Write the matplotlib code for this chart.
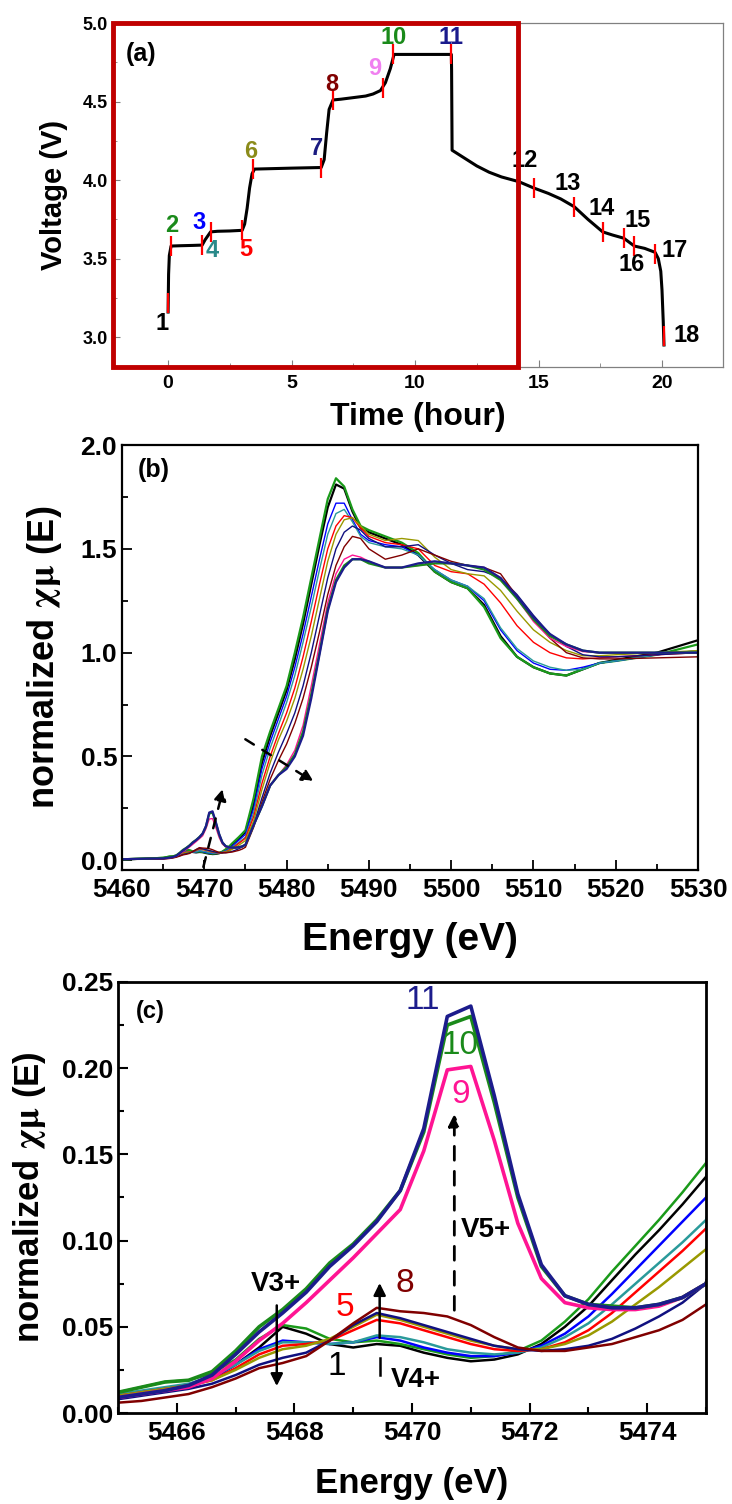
import matplotlib
matplotlib.use('Agg')
import matplotlib.pyplot as plt
from matplotlib.patches import Rectangle
from matplotlib.ticker import MultipleLocator, FormatStrFormatter

plt.rcParams['font.family'] = ['Liberation Sans', 'DejaVu Sans']
plt.rcParams['font.weight'] = 'bold'
plt.rcParams['mathtext.fontset'] = 'stix'

# ---------------- (a) charge / discharge profile ----------------
time_h = [0.0, 0.02, 0.05, 0.12, 0.5, 1.0, 1.38, 1.5, 1.72, 2.0, 2.5, 3.0, 3.1, 3.2, 3.3, 3.4, 3.5,
          4.0, 5.0, 6.2, 6.32, 6.42, 6.52, 6.68, 7.0, 7.5, 8.0, 8.3, 8.6, 8.8, 9.0, 9.15, 10.0,
          11.0, 11.47, 11.48, 11.5, 12.0, 12.5, 13.0, 13.5, 14.2, 14.8, 15.4, 15.9, 16.45, 17.0,
          17.6, 18.0, 18.45, 18.88, 19.3, 19.72, 19.85, 19.95, 20.0, 20.05, 20.08]
voltage = [3.16, 3.40, 3.52, 3.58, 3.582, 3.584, 3.586, 3.62, 3.67, 3.674, 3.676, 3.68, 3.72, 3.82,
           3.95, 4.04, 4.07, 4.072, 4.076, 4.08, 4.13, 4.30, 4.45, 4.51, 4.515, 4.525, 4.535, 4.548,
           4.57, 4.62, 4.71, 4.80, 4.80, 4.80, 4.80, 4.70, 4.19, 4.14, 4.09, 4.05, 4.02, 3.99, 3.95,
           3.915, 3.88, 3.83, 3.75, 3.67, 3.65, 3.63, 3.58, 3.565, 3.54, 3.50, 3.42, 3.30, 3.10, 2.95]

# measurement points (red ticks)
mark_t = [0.0, 0.12, 1.38, 1.72, 3.0, 3.45, 6.2, 6.68, 8.7, 9.12, 11.47, 14.8, 16.45, 17.6, 18.45, 18.88, 19.72, 20.08]
mark_v = [3.22, 3.58, 3.586, 3.67, 3.68, 4.07, 4.08, 4.51, 4.585, 4.80, 4.80, 3.95, 3.83, 3.67, 3.63, 3.58, 3.53, 3.01]
mark_labels = [str(i) for i in range(1, 19)]
label_t = [-0.25, 0.13, 1.27, 1.78, 3.13, 3.36, 6.0, 6.62, 8.38, 9.14, 11.47, 14.45, 16.2, 17.57, 19.0, 18.75, 20.5, 21.0]
label_v = [3.085, 3.71, 3.73, 3.55, 3.56, 4.18, 4.2, 4.61, 4.71, 4.91, 4.91, 4.125, 3.98, 3.82, 3.74, 3.46, 3.55, 3.01]
label_colors = ['#000000', '#1a8a1a', '#0000ff', '#2a8a8a', '#ff0000', '#8b8b1a', '#1a1a80', '#800000',
                '#f080f0', '#1a8a1a', '#1a1a8c'] + ['#000000'] * 7

# ---------------- (b)/(c) XANES spectra ----------------
energy = ([5460, 5463] +
          [5465.0, 5465.4, 5465.8, 5466.2, 5466.6, 5467.0, 5467.4, 5467.8, 5468.2, 5468.6, 5469.0,
           5469.4, 5469.8, 5470.2, 5470.6, 5471.0, 5471.4, 5471.8, 5472.2, 5472.6, 5473.0, 5473.4,
           5473.8, 5474.2, 5474.6, 5475.0] +
          [5476, 5477, 5478, 5479, 5480, 5481, 5482, 5483, 5484, 5485, 5486, 5487, 5488, 5489, 5490,
           5492, 5494, 5496, 5498, 5500, 5502, 5504, 5506, 5508, 5510, 5512, 5514, 5516, 5518, 5520,
           5525, 5530])

mu1 = ([0.005, 0.008] +
       [0.010, 0.012, 0.014, 0.016, 0.020, 0.028, 0.038, 0.050, 0.046, 0.040, 0.038, 0.040, 0.039,
        0.035, 0.032, 0.030, 0.031, 0.034, 0.040, 0.050, 0.062, 0.077, 0.092, 0.106, 0.121, 0.137] +
       [0.27, 0.47, 0.60, 0.71, 0.82, 0.97, 1.14, 1.33, 1.52, 1.70, 1.81, 1.79, 1.68, 1.60, 1.58, 1.55,
        1.52, 1.47, 1.39, 1.34, 1.31, 1.23, 1.08, 0.98, 0.93, 0.90, 0.89, 0.92, 0.95, 0.965, 1.00, 1.06])
mu2 = ([0.005, 0.008] +
       [0.012, 0.015, 0.018, 0.019, 0.023, 0.031, 0.043, 0.051, 0.049, 0.043, 0.041, 0.042, 0.040,
        0.037, 0.034, 0.032, 0.033, 0.036, 0.042, 0.053, 0.066, 0.082, 0.097, 0.112, 0.128, 0.145] +
       [0.30, 0.50, 0.62, 0.73, 0.84, 1.00, 1.17, 1.36, 1.55, 1.74, 1.84, 1.80, 1.69, 1.61, 1.59, 1.56,
        1.53, 1.48, 1.39, 1.34, 1.31, 1.22, 1.07, 0.98, 0.93, 0.90, 0.89, 0.92, 0.95, 0.96, 0.99, 1.04])
mu3 = ([0.005, 0.008] +
       [0.010, 0.012, 0.014, 0.016, 0.020, 0.028, 0.037, 0.042, 0.041, 0.040, 0.041, 0.044, 0.042,
        0.038, 0.035, 0.033, 0.033, 0.035, 0.039, 0.046, 0.056, 0.069, 0.083, 0.097, 0.111, 0.125] +
       [0.25, 0.44, 0.57, 0.68, 0.79, 0.93, 1.09, 1.27, 1.45, 1.62, 1.72, 1.72, 1.64, 1.57, 1.54, 1.52,
        1.51, 1.47, 1.40, 1.35, 1.32, 1.25, 1.11, 1.01, 0.95, 0.92, 0.915, 0.93, 0.95, 0.96, 0.99, 1.01])
mu4 = ([0.005, 0.008] +
       [0.011, 0.013, 0.015, 0.017, 0.021, 0.028, 0.036, 0.041, 0.041, 0.040, 0.041, 0.045, 0.044,
        0.041, 0.037, 0.035, 0.034, 0.035, 0.038, 0.044, 0.052, 0.063, 0.075, 0.087, 0.099, 0.112] +
       [0.23, 0.41, 0.54, 0.65, 0.76, 0.89, 1.05, 1.22, 1.40, 1.57, 1.67, 1.69, 1.63, 1.56, 1.53, 1.51,
        1.50, 1.47, 1.40, 1.35, 1.32, 1.26, 1.12, 1.02, 0.96, 0.93, 0.915, 0.92, 0.95, 0.96, 0.99, 1.01])
mu5 = ([0.005, 0.008] +
       [0.010, 0.012, 0.014, 0.016, 0.019, 0.026, 0.034, 0.039, 0.040, 0.042, 0.048, 0.054, 0.052,
        0.048, 0.044, 0.040, 0.037, 0.036, 0.037, 0.041, 0.048, 0.058, 0.070, 0.082, 0.094, 0.107] +
       [0.21, 0.37, 0.50, 0.61, 0.71, 0.83, 0.98, 1.15, 1.33, 1.50, 1.61, 1.66, 1.65, 1.60, 1.56, 1.53,
        1.52, 1.50, 1.42, 1.39, 1.38, 1.33, 1.24, 1.13, 1.05, 1.00, 0.975, 0.97, 0.975, 0.98, 0.99, 1.00])
mu6 = ([0.005, 0.008] +
       [0.010, 0.012, 0.014, 0.016, 0.019, 0.025, 0.032, 0.037, 0.039, 0.043, 0.050, 0.057, 0.054,
        0.050, 0.046, 0.042, 0.039, 0.037, 0.037, 0.040, 0.045, 0.053, 0.063, 0.073, 0.084, 0.095] +
       [0.19, 0.34, 0.47, 0.58, 0.67, 0.78, 0.92, 1.08, 1.26, 1.44, 1.57, 1.64, 1.65, 1.61, 1.57, 1.54,
        1.55, 1.54, 1.46, 1.40, 1.38, 1.37, 1.30, 1.20, 1.11, 1.05, 1.01, 0.985, 0.985, 0.99, 1.00, 1.01])
mu7 = ([0.005, 0.007] +
       [0.008, 0.010, 0.012, 0.014, 0.017, 0.022, 0.028, 0.032, 0.035, 0.042, 0.051, 0.058, 0.055,
        0.051, 0.047, 0.043, 0.039, 0.037, 0.036, 0.037, 0.039, 0.043, 0.049, 0.056, 0.064, 0.075] +
       [0.17, 0.30, 0.42, 0.52, 0.61, 0.71, 0.84, 1.00, 1.18, 1.36, 1.50, 1.58, 1.61, 1.59, 1.55, 1.51,
        1.51, 1.52, 1.47, 1.43, 1.40, 1.39, 1.36, 1.28, 1.18, 1.09, 1.03, 0.99, 0.98, 0.98, 0.99, 1.00])
mu8 = ([0.004, 0.005] +
       [0.006, 0.007, 0.009, 0.011, 0.015, 0.020, 0.026, 0.029, 0.033, 0.042, 0.052, 0.061, 0.059,
        0.058, 0.056, 0.051, 0.044, 0.038, 0.036, 0.036, 0.038, 0.040, 0.044, 0.048, 0.054, 0.063] +
       [0.16, 0.28, 0.39, 0.48, 0.56, 0.66, 0.78, 0.93, 1.10, 1.28, 1.42, 1.51, 1.56, 1.55, 1.50, 1.45,
        1.47, 1.50, 1.47, 1.44, 1.42, 1.41, 1.38, 1.27, 1.16, 1.07, 1.00, 0.975, 0.97, 0.97, 0.975, 0.98])
mu9 = ([0.005, 0.008] +
       [0.009, 0.011, 0.013, 0.015, 0.020, 0.030, 0.042, 0.052, 0.064, 0.077, 0.090, 0.104, 0.118,
        0.152, 0.199, 0.201, 0.158, 0.110, 0.078, 0.064, 0.061, 0.060, 0.060, 0.062, 0.067, 0.075] +
       [0.17, 0.26, 0.36, 0.41, 0.46, 0.53, 0.65, 0.84, 1.04, 1.24, 1.38, 1.45, 1.47, 1.46, 1.44, 1.41,
        1.41, 1.42, 1.43, 1.43, 1.42, 1.41, 1.36, 1.26, 1.15, 1.07, 1.03, 1.005, 1.00, 1.00, 1.00, 1.00])
mu10 = ([0.005, 0.008] +
        [0.012, 0.015, 0.018, 0.019, 0.024, 0.036, 0.050, 0.060, 0.072, 0.087, 0.098, 0.112, 0.129,
         0.163, 0.225, 0.230, 0.180, 0.125, 0.085, 0.068, 0.063, 0.062, 0.061, 0.063, 0.067, 0.075] +
        [0.17, 0.26, 0.36, 0.41, 0.45, 0.51, 0.62, 0.80, 1.00, 1.21, 1.35, 1.42, 1.45, 1.45, 1.43, 1.41,
         1.41, 1.42, 1.43, 1.43, 1.42, 1.40, 1.35, 1.26, 1.16, 1.08, 1.04, 1.01, 1.00, 1.00, 1.00, 1.00])
mu11 = ([0.005, 0.008] +
        [0.009, 0.011, 0.013, 0.016, 0.022, 0.034, 0.047, 0.058, 0.070, 0.085, 0.097, 0.111, 0.129,
         0.165, 0.230, 0.236, 0.184, 0.127, 0.086, 0.068, 0.063, 0.061, 0.061, 0.063, 0.067, 0.075] +
        [0.17, 0.26, 0.36, 0.41, 0.44, 0.50, 0.60, 0.78, 0.99, 1.20, 1.34, 1.41, 1.45, 1.45, 1.44, 1.41,
         1.41, 1.43, 1.44, 1.43, 1.42, 1.41, 1.36, 1.27, 1.17, 1.09, 1.04, 1.01, 1.00, 1.00, 1.00, 1.00])

spectra = [mu1, mu2, mu3, mu4, mu5, mu6, mu7, mu8, mu9, mu10, mu11]
spec_colors = ['#000000', '#1a9a1a', '#0000ff', '#2a9a9a', '#ff0000', '#999900', '#101080',
               '#800000', '#ff1493', '#1a8a1a', '#1c1c8c']
lw_b = [1.6, 1.6, 1.0, 1.0, 1.0, 1.0, 1.0, 1.0, 1.0, 1.6, 1.6]
lw_c = [1.8, 1.8, 1.8, 1.8, 1.8, 1.8, 1.8, 1.8, 2.6, 2.6, 2.6]
ylab_xanes = r'normalized $\mathrm{\chi\mu}$ (E)'

fig = plt.figure(figsize=(7.32, 15.04), dpi=100)

# ---------------- panel (a) ----------------
ax1 = fig.add_axes([0.1544, 0.7560, 0.8333, 0.2287])
ax1.plot(time_h, voltage, color='k', lw=2.2, zorder=2)
ax1.plot(mark_t, mark_v, ls='none', marker='|', ms=14, mew=1.6, color='#ff0000', zorder=3)
for lab, x, y, c in zip(mark_labels, label_t, label_v, label_colors):
    ax1.text(x, y, lab, color=c, fontsize=17, fontweight='bold', ha='center', va='center', zorder=4)
ax1.text(-1.1, 4.80, '(a)', fontsize=18, fontweight='bold', ha='center', va='center')
ax1.set_xlim(-2.23, 22.47)
ax1.set_ylim(2.81, 5.0)
ax1.xaxis.set_major_locator(MultipleLocator(5))
ax1.xaxis.set_minor_locator(MultipleLocator(2.5))
ax1.yaxis.set_major_locator(MultipleLocator(0.5))
ax1.yaxis.set_minor_locator(MultipleLocator(0.25))
ax1.yaxis.set_major_formatter(FormatStrFormatter('%.1f'))
for sp in ax1.spines.values():
    sp.set_color('#808080')
    sp.set_linewidth(0.9)
ax1.tick_params(which='both', direction='in', color='#808080', top=False, right=False)
ax1.tick_params(which='major', length=5)
ax1.tick_params(axis='x', labelsize=14, pad=6)
ax1.tick_params(axis='y', labelsize=13)
ax1.tick_params(which='minor', length=3)
ax1.set_xlabel('Time (hour)', fontsize=23, fontweight='bold')
ax1.set_ylabel('Voltage (V)', fontsize=21, fontweight='bold')
ax1.xaxis.set_label_coords(0.5, -0.145)
ax1.xaxis.label.set_va('center')
ax1.yaxis.set_label_coords(-0.097, 0.5)
ax1.yaxis.label.set_va('center')
ax1.add_patch(Rectangle((-2.23, 2.81), 14.17 + 2.23, 5.0 - 2.81, fill=False, ec='#c00000',
                        lw=3.5, clip_on=False, zorder=6))

# ---------------- panel (b) ----------------
ax2 = fig.add_axes([0.1667, 0.4215, 0.7869, 0.2826])
for mu, c, lw in zip(spectra, spec_colors, lw_b):
    ax2.plot(energy, mu, color=c, lw=lw)
ax2.annotate('', xy=(5472.4, 0.36), xytext=(5469.8, -0.045),
             arrowprops=dict(arrowstyle='-|>', color='k', lw=1.8, ls=(0, (4, 4)), mutation_scale=18))
ax2.annotate('', xy=(5483.6, 0.37), xytext=(5474.7, 0.59),
             arrowprops=dict(arrowstyle='-|>', color='k', lw=1.8, ls=(0, (4, 4)), mutation_scale=18))
ax2.text(5463.8, 1.88, '(b)', fontsize=18, fontweight='bold', ha='center', va='center')
ax2.set_xlim(5460, 5530)
ax2.set_ylim(-0.047, 2.0)
ax2.xaxis.set_major_locator(MultipleLocator(10))
ax2.xaxis.set_minor_locator(MultipleLocator(5))
ax2.yaxis.set_major_locator(MultipleLocator(0.5))
ax2.yaxis.set_minor_locator(MultipleLocator(0.25))
ax2.yaxis.set_major_formatter(FormatStrFormatter('%.1f'))
for sp in ax2.spines.values():
    sp.set_linewidth(1.6)
ax2.tick_params(which='both', direction='in', width=1.3, top=False, right=False)
ax2.tick_params(which='major', length=7, labelsize=19)
ax2.tick_params(axis='x', pad=6)
ax2.tick_params(which='minor', length=4)
ax2.set_xlabel('Energy (eV)', fontsize=28, fontweight='bold')
ax2.set_ylabel(ylab_xanes, fontsize=26, fontweight='bold')
ax2.xaxis.set_label_coords(0.5, -0.165)
ax2.xaxis.label.set_va('center')
ax2.yaxis.set_label_coords(-0.134, 0.5)
ax2.yaxis.label.set_va('center')

# ---------------- panel (c) ----------------
ax3 = fig.add_axes([0.1612, 0.0605, 0.8033, 0.2866])
for mu, c, lw in zip(spectra, spec_colors, lw_c):
    ax3.plot(energy, mu, color=c, lw=lw)
num_font = dict(fontsize=24, fontweight='normal', ha='center', va='center')
ax3.text(5470.19, 0.239, '11', color='#1c1c8c', **num_font)
ax3.text(5470.82, 0.213, '10', color='#1a8a1a', **num_font)
ax3.text(5470.82, 0.185, '9', color='#ff1493', **num_font)
ax3.text(5468.86, 0.061, '5', color='#ff0000', **num_font)
ax3.text(5469.87, 0.075, '8', color='#800000', **num_font)
ax3.text(5468.72, 0.027, '1', color='#000000', **num_font)
v_font = dict(fontsize=20, fontweight='bold', ha='center', va='center')
ax3.text(5467.68, 0.075, 'V3+', **v_font)
ax3.text(5470.07, 0.019, 'V4+', **v_font)
ax3.text(5471.26, 0.106, 'V5+', **v_font)
ax3.text(5465.55, 0.233, '(c)', fontsize=17, fontweight='bold', ha='center', va='center')
ax3.annotate('', xy=(5467.7, 0.014), xytext=(5467.7, 0.064),
             arrowprops=dict(arrowstyle='-|>', color='k', lw=1.8, mutation_scale=18))
ax3.annotate('', xy=(5469.45, 0.077), xytext=(5469.45, 0.042),
             arrowprops=dict(arrowstyle='-|>', color='k', lw=1.8, mutation_scale=18))
ax3.plot([5469.45, 5469.45], [0.022, 0.032], color='k', lw=1.8)
ax3.annotate('', xy=(5470.72, 0.175), xytext=(5470.72, 0.058),
             arrowprops=dict(arrowstyle='-|>', color='k', lw=2.0, ls=(0, (5, 4)), mutation_scale=18))
ax3.set_xlim(5465, 5475)
ax3.set_ylim(0, 0.25)
ax3.xaxis.set_major_locator(MultipleLocator(2))
ax3.xaxis.set_minor_locator(MultipleLocator(1))
ax3.yaxis.set_major_locator(MultipleLocator(0.05))
ax3.yaxis.set_minor_locator(MultipleLocator(0.025))
ax3.yaxis.set_major_formatter(FormatStrFormatter('%.2f'))
for sp in ax3.spines.values():
    sp.set_linewidth(2.0)
ax3.tick_params(which='both', direction='in', width=1.5, top=False, right=False)
ax3.tick_params(which='major', length=7, labelsize=19)
ax3.tick_params(axis='x', pad=6)
ax3.tick_params(which='minor', length=4)
ax3.set_xlabel('Energy (eV)', fontsize=25, fontweight='bold')
ax3.set_ylabel(ylab_xanes, fontsize=25, fontweight='bold')
ax3.xaxis.set_label_coords(0.5, -0.163)
ax3.xaxis.label.set_va('center')
ax3.yaxis.set_label_coords(-0.150, 0.5)
ax3.yaxis.label.set_va('center')

fig.savefig('out.png', dpi=100)
